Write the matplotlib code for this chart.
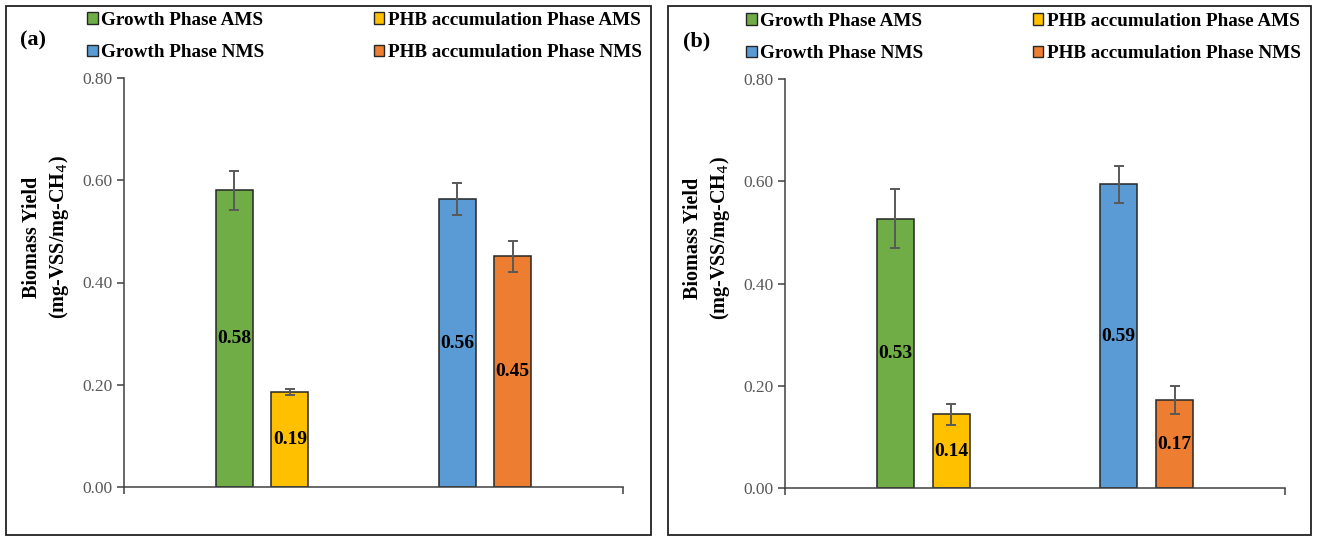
import matplotlib
matplotlib.use("Agg")
import matplotlib.pyplot as plt
from matplotlib.patches import Patch, Rectangle
import numpy as np

plt.rcParams["font.family"] = ["Liberation Serif", "DejaVu Serif"]

series = ["Growth Phase AMS", "PHB accumulation Phase AMS",
          "Growth Phase NMS", "PHB accumulation Phase NMS"]
colors = ["#70AD47", "#FFC000", "#5B9BD5", "#ED7D31"]
group = [0, 0, 1, 1]
offset = [-0.125, 0.125, -0.125, 0.125]

panel_a_vals = [0.580, 0.186, 0.563, 0.451]
panel_a_err = [0.039, 0.006, 0.031, 0.031]
panel_b_vals = [0.527, 0.144, 0.594, 0.172]
panel_b_err = [0.057, 0.021, 0.036, 0.028]

yticks = [0.0, 0.2, 0.4, 0.6, 0.8]

W, H = 1317, 537
fig = plt.figure(figsize=(W / 100, H / 100), dpi=100)


def fx(px):
    return px / W


def fy(py):
    return (H - py) / H


def draw_panel(ax_rect, vals, errs, tag, tag_xy, frame, legend_xy):
    # outer box round the panel
    x0, y0, x1, y1 = frame
    fig.patches.append(Rectangle((fx(x0), fy(y1)), fx(x1) - fx(x0), fy(y0) - fy(y1),
                                 transform=fig.transFigure, fill=False,
                                 edgecolor="#222222", linewidth=1.3))
    ax = fig.add_axes(ax_rect)
    x = np.array(group) + np.array(offset)
    bars = ax.bar(x, vals, width=0.166, color=colors, edgecolor="#262626",
                  linewidth=1.1, zorder=2)
    ax.errorbar(x, vals, yerr=errs, fmt="none", ecolor="#595959",
                elinewidth=1.4, capsize=3.5, capthick=1.4, zorder=3)
    for b, v in zip(bars, vals):
        ax.text(b.get_x() + b.get_width() / 2, v / 2, f"{v:.2f}",
                ha="center", va="center", fontsize=14, fontweight="bold",
                color="black", zorder=4)
    ax.set_xlim(-0.62, 1.62)
    ax.set_ylim(0, 0.8)
    ax.set_yticks(yticks)
    ax.set_yticklabels([f"{t:.2f}" for t in yticks])
    ax.set_xticks([-0.62, 1.62])
    ax.set_xticklabels([])
    ax.tick_params(axis="both", direction="out", length=5, width=1.1,
                   colors="#404040", labelcolor="#595959", labelsize=12.5)
    for s in ["top", "right"]:
        ax.spines[s].set_visible(False)
    for s in ["left", "bottom"]:
        ax.spines[s].set_color("#404040")
        ax.spines[s].set_linewidth(1.1)
    ax.set_ylabel("Biomass Yield\n(mg-VSS/mg-CH$_4$)", fontsize=14.5,
                  fontweight="bold", va="center", linespacing=1.3)
    ax.yaxis.set_label_coords(-0.155, 0.61)

    fig.text(fx(tag_xy[0]), fy(tag_xy[1]), tag, fontsize=16, fontweight="bold",
             ha="center", va="center")

    handles = [Patch(facecolor=c, edgecolor="#262626", linewidth=1.0) for c in colors]
    order = [0, 2, 1, 3]
    fig.legend([handles[i] for i in order], [series[i] for i in order],
               loc="upper left", bbox_to_anchor=(fx(legend_xy[0]), fy(legend_xy[1])),
               ncol=2, frameon=False, borderpad=0, borderaxespad=0,
               handlelength=0.55, handleheight=0.55, handletextpad=0.2,
               columnspacing=5.7, labelspacing=0.8,
               prop={"size": 13.8, "weight": "bold"})
    return ax


draw_panel([fx(124), fy(487), fx(623) - fx(124), fy(78) - fy(487)],
           panel_a_vals, panel_a_err, "(a)", (33, 40), (6, 6, 651, 535), (87, 12))
draw_panel([fx(785), fy(488), fx(1285) - fx(785), fy(79) - fy(488)],
           panel_b_vals, panel_b_err, "(b)", (697, 41), (668, 6, 1311, 535), (746, 13))

fig.savefig("out.png", dpi=100)
